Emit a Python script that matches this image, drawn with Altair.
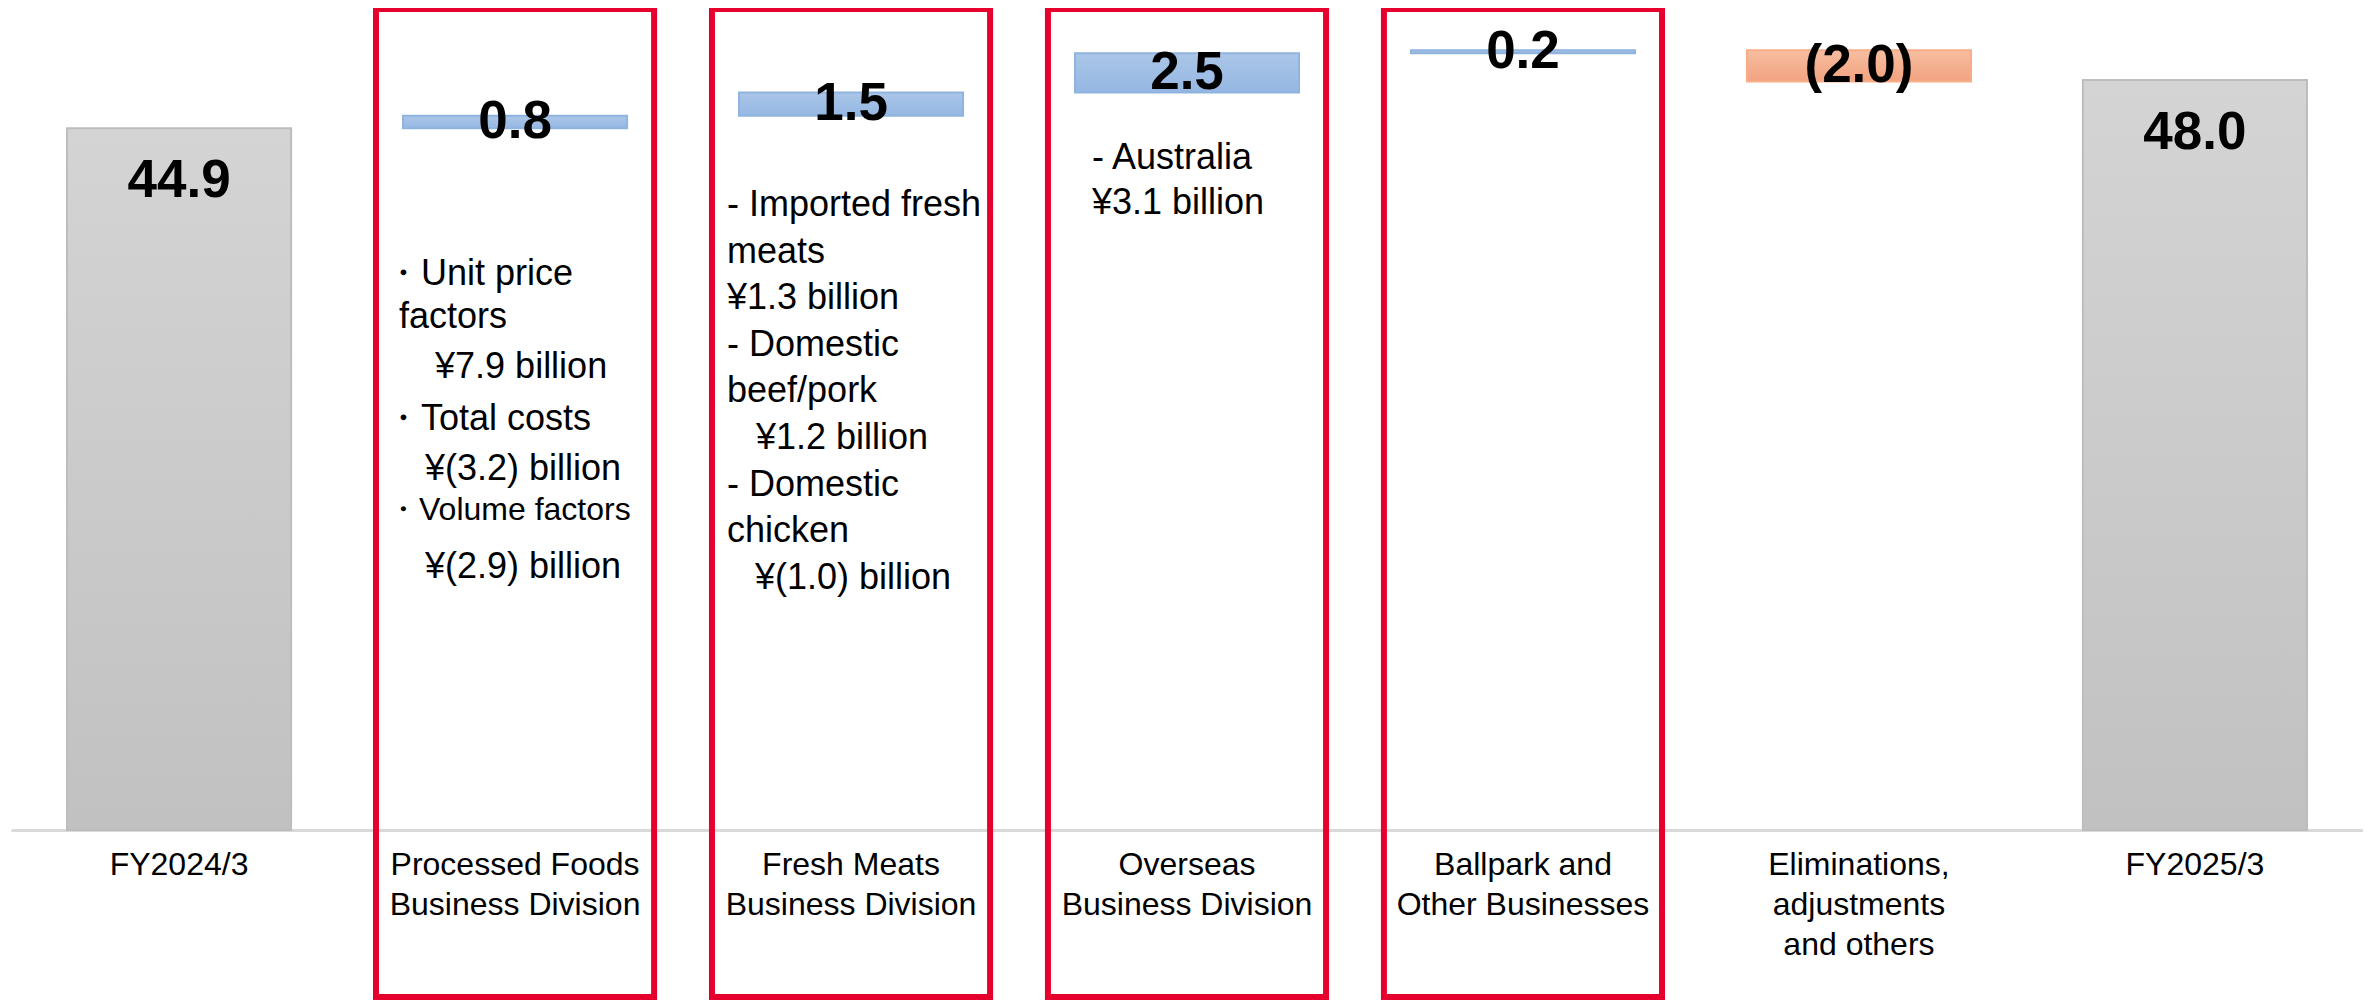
import altair as alt
import pandas as pd

# ---------------- data ----------------
categories = [
    "FY2024/3",
    "Processed Foods\nBusiness Division",
    "Fresh Meats\nBusiness Division",
    "Overseas\nBusiness Division",
    "Ballpark and\nOther Businesses",
    "Eliminations,\nadjustments\nand others",
    "FY2025/3",
]
kinds = ["total", "delta", "delta", "delta", "delta", "delta", "total"]
values = [44.9, 0.8, 1.5, 2.5, 0.2, -2.0, 48.0]
value_labels = ["44.9", "0.8", "1.5", "2.5", "0.2", "(2.0)", "48.0"]
highlighted = categories[1:5]

notes_processed = ["・Unit price", "factors", "¥7.9 billion", "・Total costs",
                   "¥(3.2) billion", "・Volume factors", "¥(2.9) billion"]
notes_fresh = ["- Imported fresh", "meats", "¥1.3 billion", "- Domestic", "beef/pork",
               "¥1.2 billion", "- Domestic", "chicken", "¥(1.0) billion"]
notes_overseas = ["- Australia", "¥3.1 billion"]

# ---------------- build waterfall table ----------------
starts, ends, signs = [], [], []
running = 0.0
for k, v in zip(kinds, values):
    if k == "total":
        starts.append(0.0)
        ends.append(v)
        running = v
        signs.append("total")
    else:
        starts.append(running)
        ends.append(running + v)
        running += v
        signs.append("up" if v >= 0 else "down")

df = pd.DataFrame({
    "category": categories,
    "start": starts,
    "end": ends,
    "mid": [(a + b) / 2 for a, b in zip(starts, ends)],
    "sign": signs,
    "label": value_labels,
})

# ---------------- layout / style constants ----------------
W, H = 2352, 822
PAD_BOTTOM = 171
FONT = "Liberation Sans"

xscale = alt.Scale(domain=categories, paddingInner=0.333, paddingOuter=0.1667)
yscale = alt.Scale(domain=[0, 52.6], nice=False, zero=False)

xaxis = alt.Axis(
    title=None, labelAngle=0, ticks=False, tickSize=0,
    domainColor="#d9d9d9", domainWidth=3,
    labelFont=FONT, labelFontSize=32, labelColor="black",
    labelLineHeight=40, labelBaseline="top", labelPadding=19,
    labelLimit=500, labelExpr="split(datum.label, '\\n')",
)

base = alt.Chart(df)


def grad(top, bottom):
    return alt.Gradient(
        gradient="linear",
        stops=[alt.GradientStop(color=top, offset=0), alt.GradientStop(color=bottom, offset=1)],
        x1=0, x2=0, y1=0, y2=1,
    )


X = alt.X("category:N", scale=xscale, axis=xaxis)

frames = alt.Chart(pd.DataFrame({"category": highlighted})).mark_bar(
    fill="transparent", stroke="#e5002d", strokeWidth=6,
    width=alt.RelativeBandSize(1.241),
).encode(
    x=X,
    y=alt.value(1),
    y2=alt.value(H + PAD_BOTTOM - 4),
)

Y = alt.Y("start:Q", scale=yscale, axis=None)

totals = base.transform_filter("datum.sign == 'total'").mark_bar(
    fill=grad("#d4d4d4", "#c1c1c1"), stroke="#bdbdbd", strokeWidth=2,
).encode(x=X, y=Y, y2="end:Q")

ups = base.transform_filter("datum.sign == 'up'").mark_bar(
    fill=grad("#abc6e8", "#94b7e2"), stroke="#8fb4e0", strokeWidth=2,
).encode(x=X, y=Y, y2="end:Q")

downs = base.transform_filter("datum.sign == 'down'").mark_bar(
    fill=grad("#f6bea1", "#f3a27f"), stroke="#f6ad88", strokeWidth=2,
).encode(x=X, y=Y, y2="end:Q")

delta_labels = base.transform_filter("datum.sign != 'total'").mark_text(
    font=FONT, fontSize=53, fontWeight="bold", color="black", baseline="middle",
).encode(
    x=X,
    y=alt.Y("mid:Q", scale=yscale, axis=None),
    text="label:N",
)

total_labels = base.transform_filter("datum.sign == 'total'").mark_text(
    font=FONT, fontSize=53, fontWeight="bold", color="black", baseline="middle", dy=53,
).encode(
    x=X,
    y=alt.Y("end:Q", scale=yscale, axis=None),
    text="label:N",
)


def note_line(cat, text, center_page_y, dx, size):
    y = center_page_y - 8 + 2
    d = pd.DataFrame({"category": [cat], "text": [text]})
    return alt.Chart(d).mark_text(
        font=FONT, fontSize=size, align="left", baseline="middle",
        dx=dx, color="black",
    ).encode(x=X, y=alt.value(y), text="text:N")


# per-line styling: (vertical centre on page, horizontal offset from band centre, font size)
processed_style = [(272, -130, 36), (315, -116, 36), (365, -80, 36), (417, -130, 36),
                   (467, -90, 36), (508, -128, 32), (565, -90, 36)]
fresh_style = [(203 + i * 46.6, -124 + ind, 36) for i, ind in
               enumerate([0, 0, 0, 0, 0, 29, 0, 0, 28])]
overseas_style = [(156, -95, 36), (201, -95, 36)]

notes = []
for cat, lines, styles in [
    (categories[1], notes_processed, processed_style),
    (categories[2], notes_fresh, fresh_style),
    (categories[3], notes_overseas, overseas_style),
]:
    for text, (cy, dx, size) in zip(lines, styles):
        notes.append(note_line(cat, text, cy, dx, size))

chart = alt.layer(
    frames, totals, ups, downs, delta_labels, total_labels, *notes
).properties(
    width=W, height=H,
    padding={"left": 3, "top": 0, "right": 0, "bottom": PAD_BOTTOM},
    autosize=alt.AutoSizeParams(type="none"),
).configure_view(stroke=None)

chart.save("out.html", embed_options={"renderer": "svg", "actions": False})
